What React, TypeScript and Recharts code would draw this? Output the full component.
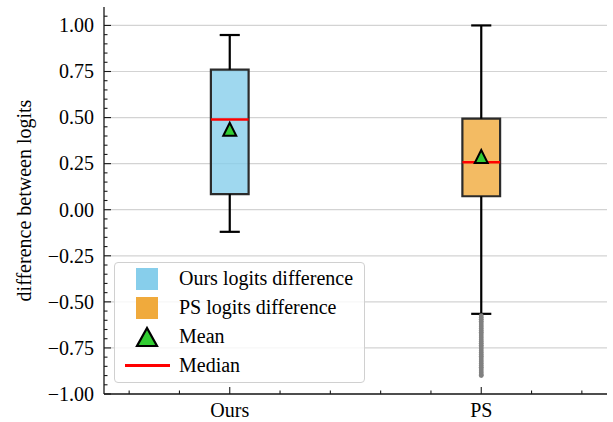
import {
  ComposedChart,
  XAxis,
  YAxis,
  CartesianGrid,
  ReferenceArea,
  ReferenceLine,
  Scatter,
  Legend,
} from "recharts";

const categories = ["Ours", "PS"];
const positions = [1, 2];
const whiskerLow = [-0.12, -0.565];
const q1 = [0.085, 0.073];
const medians = [0.49, 0.258];
const q3 = [0.76, 0.494];
const whiskerHigh = [0.948, 1.0];
const means = [0.437, 0.289];
const boxColors = ["#87ceeb", "#f0aa3c"];

// PS outliers below the lower whisker
const psOutliers = [
  -0.575, -0.585, -0.595, -0.605, -0.615, -0.625, -0.635, -0.645, -0.655,
  -0.665, -0.675, -0.685, -0.695, -0.705, -0.715, -0.725, -0.735, -0.745,
  -0.755, -0.765, -0.775, -0.785, -0.795, -0.805, -0.815, -0.825, -0.835,
  -0.845, -0.855, -0.865, -0.875, -0.885, -0.895, -0.9,
];

const majorY = [-1, -0.75, -0.5, -0.25, 0, 0.25, 0.5, 0.75, 1];
const ticksY = Array.from({ length: 42 }, (_, i) => +(-1 + i * 0.05).toFixed(2));
const ticksX = [0.6, 0.8, 1, 1.2, 1.4, 1.6, 1.8, 2, 2.2, 2.4];

const legendItems = [
  { label: "Ours logits difference", kind: "box", color: boxColors[0] },
  { label: "PS logits difference", kind: "box", color: boxColors[1] },
  { label: "Mean", kind: "mean", color: "#32cd32" },
  { label: "Median", kind: "median", color: "#ff0000" },
];

const FONT = "'Liberation Serif', 'Times New Roman', serif";
const AXIS = "#1a1a1a";
const HALF_BOX = 0.075;
const HALF_CAP = 0.04;

const isMajorY = (v: number) => Math.abs(v * 4 - Math.round(v * 4)) < 1e-6;
const isMajorX = (v: number) => Math.abs(v - Math.round(v)) < 1e-6;
const fmtY = (v: number) => v.toFixed(2).replace("-", "\u2212");

const LeftTick = (props: any) => {
  const { x, y, payload } = props;
  const major = isMajorY(payload.value);
  return (
    <g>
      <line x1={x} x2={x + (major ? 7 : 3.5)} y1={y} y2={y} stroke={AXIS} strokeWidth={1.1} />
      {major && (
        <text x={x - 10} y={y} dy="0.34em" textAnchor="end" fontFamily={FONT} fontSize={20} fill="#000">
          {fmtY(payload.value)}
        </text>
      )}
    </g>
  );
};

const RightTick = (props: any) => {
  const { x, y, payload } = props;
  const major = isMajorY(payload.value);
  return <line x1={x} x2={x - (major ? 7 : 3.5)} y1={y} y2={y} stroke={AXIS} strokeWidth={1.1} />;
};

const BottomTick = (props: any) => {
  const { x, y, payload } = props;
  const major = isMajorX(payload.value);
  return (
    <g>
      <line x1={x} x2={x} y1={y} y2={y - (major ? 7 : 3.5)} stroke={AXIS} strokeWidth={1.1} />
      {major && (
        <text x={x} y={y} dy={23.3} textAnchor="middle" fontFamily={FONT} fontSize={20} fill="#000">
          {categories[positions.indexOf(Math.round(payload.value))]}
        </text>
      )}
    </g>
  );
};

const TopTick = (props: any) => {
  const { x, y, payload } = props;
  const major = isMajorX(payload.value);
  return <line x1={x} x2={x} y1={y} y2={y + (major ? 7 : 3.5)} stroke={AXIS} strokeWidth={1.1} />;
};

const Triangle = ({ cx, cy, w = 13 }: any) => (
  <polygon
    points={`${cx},${cy - w / 2} ${cx - w / 2},${cy + w / 2} ${cx + w / 2},${cy + w / 2}`}
    fill="#32cd32"
    stroke="#000"
    strokeWidth={2}
    strokeLinejoin="miter"
  />
);

const Dot = ({ cx, cy }: any) => <circle cx={cx} cy={cy} r={2.4} fill="#808080" />;

const YLabel = ({ viewBox }: any) => {
  const cx = 31;
  const cy = viewBox.y + viewBox.height / 2;
  return (
    <text x={cx} y={cy} textAnchor="middle" fontFamily={FONT} fontSize={20} fill="#000" transform={`rotate(-90, ${cx}, ${cy})`}>
      difference between logits
    </text>
  );
};

const LegendBox = () => (
  <div
    style={{
      boxSizing: "border-box",
      width: 251,
      height: 121,
      border: "1.5px solid #d0d0d0",
      borderRadius: 4,
      background: "rgba(255,255,255,0.8)",
      fontFamily: FONT,
      fontSize: 20,
      color: "#000",
      padding: "1px 0 0 0",
    }}
  >
    {legendItems.map((it) => (
      <div key={it.label} style={{ display: "flex", alignItems: "center", height: 29 }}>
        <div style={{ width: 64, display: "flex", justifyContent: "center", alignItems: "center" }}>
          {it.kind === "box" && <div style={{ width: 22, height: 22, background: it.color }} />}
          {it.kind === "mean" && (
            <svg width={26} height={24}>
              <polygon points="13,3 3,21 23,21" fill={it.color} stroke="#000" strokeWidth={2.2} />
            </svg>
          )}
          {it.kind === "median" && <div style={{ width: 45, height: 3, background: it.color }} />}
        </div>
        <span style={{ lineHeight: "29px" }}>{it.label}</span>
      </div>
    ))}
  </div>
);

export default function App() {
  const meanData = positions.map((p, i) => ({ x: p, y: means[i] }));
  const outlierData = psOutliers.map((v) => ({ x: positions[1], y: v }));
  return (
    <div style={{ position: "absolute", left: 0, top: 0, background: "#fff" }}>
      <ComposedChart width={613} height={422} margin={{ top: 7, right: 6, bottom: 0, left: 0 }}>
        <CartesianGrid vertical={false} horizontalValues={majorY} stroke="#d3d3d3" strokeWidth={1.2} />
        <XAxis
          dataKey="x"
          type="number"
          domain={[0.5, 2.5]}
          allowDataOverflow
          ticks={ticksX}
          interval={0}
          tickSize={0}
          tickMargin={0}
          tickLine={false}
          tick={<BottomTick />}
          height={28}
          axisLine={{ stroke: AXIS, strokeWidth: 1.3 }}
        />
        <XAxis
          xAxisId="top"
          orientation="top"
          type="number"
          domain={[0.5, 2.5]}
          allowDataOverflow
          ticks={ticksX}
          interval={0}
          tickSize={0}
          tickMargin={0}
          tickLine={false}
          tick={<TopTick />}
          height={0}
          axisLine={{ stroke: AXIS, strokeWidth: 1.3 }}
        />
        <YAxis
          type="number"
          domain={[-1, 1.1]}
          allowDataOverflow
          ticks={ticksY}
          interval={0}
          tickSize={0}
          tickMargin={0}
          tickLine={false}
          tick={<LeftTick />}
          width={104}
          axisLine={{ stroke: AXIS, strokeWidth: 1.3 }}
          label={{ content: <YLabel /> }}
        />
        <YAxis
          yAxisId="right"
          orientation="right"
          type="number"
          domain={[-1, 1.1]}
          allowDataOverflow
          ticks={ticksY}
          interval={0}
          tickSize={0}
          tickMargin={0}
          tickLine={false}
          tick={<RightTick />}
          width={0}
          axisLine={{ stroke: AXIS, strokeWidth: 1.3 }}
        />

        {positions.map((p, i) => (
          <ReferenceLine
            key={`wu${i}`}
            segment={[{ x: p, y: q3[i] }, { x: p, y: whiskerHigh[i] }]}
            stroke="#000"
            strokeWidth={2.2}
          />
        ))}
        {positions.map((p, i) => (
          <ReferenceLine
            key={`wl${i}`}
            segment={[{ x: p, y: whiskerLow[i] }, { x: p, y: q1[i] }]}
            stroke="#000"
            strokeWidth={2.2}
          />
        ))}
        {positions.map((p, i) => (
          <ReferenceLine
            key={`cu${i}`}
            segment={[{ x: p - HALF_CAP, y: whiskerHigh[i] }, { x: p + HALF_CAP, y: whiskerHigh[i] }]}
            stroke="#000"
            strokeWidth={2.2}
          />
        ))}
        {positions.map((p, i) => (
          <ReferenceLine
            key={`cl${i}`}
            segment={[{ x: p - HALF_CAP, y: whiskerLow[i] }, { x: p + HALF_CAP, y: whiskerLow[i] }]}
            stroke="#000"
            strokeWidth={2.2}
          />
        ))}
        {positions.map((p, i) => (
          <ReferenceArea
            key={`box${i}`}
            x1={p - HALF_BOX}
            x2={p + HALF_BOX}
            y1={q1[i]}
            y2={q3[i]}
            fill={boxColors[i]}
            fillOpacity={0.8}
            stroke="#2b2b2b"
            strokeOpacity={1}
            strokeWidth={2.2}
          />
        ))}
        {positions.map((p, i) => (
          <ReferenceLine
            key={`med${i}`}
            segment={[{ x: p - HALF_BOX, y: medians[i] }, { x: p + HALF_BOX, y: medians[i] }]}
            stroke="#ff0000"
            strokeWidth={2.5}
          />
        ))}
        <Scatter data={outlierData} dataKey="y" shape={<Dot />} isAnimationActive={false} />
        <Scatter data={meanData} dataKey="y" shape={<Triangle />} isAnimationActive={false} />
        <Legend
          layout="vertical"
          align="center"
          verticalAlign="middle"
          content={<LegendBox />}
          wrapperStyle={{ left: 114, top: 262, width: 251, height: 121 }}
        />
      </ComposedChart>
    </div>
  );
}
